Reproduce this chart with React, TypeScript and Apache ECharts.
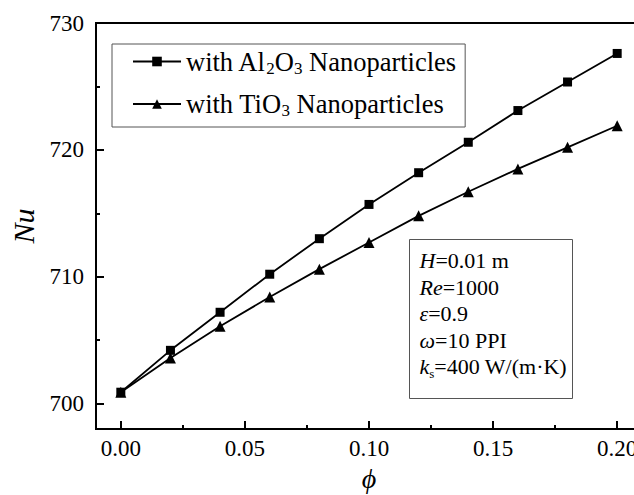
import React, { useEffect, useRef } from 'react';
import * as echarts from 'echarts';

const phi = [0, 0.02, 0.04, 0.06, 0.08, 0.1, 0.12, 0.14, 0.16, 0.18, 0.2];
const nuAl2O3 = [700.9, 704.2, 707.2, 710.2, 713.0, 715.7, 718.2, 720.6, 723.1, 725.35, 727.6];
const nuTiO3 = [700.9, 703.6, 706.1, 708.4, 710.6, 712.7, 714.8, 716.7, 718.5, 720.2, 721.9];
const xMajorTicks = [0, 0.05, 0.1, 0.15, 0.2];
const xMinorTicks = [0.025, 0.075, 0.125, 0.175];
const yMajorTicks = [700, 710, 720, 730];
const yMinorTicks = [705, 715, 725];
const seriesNames = ['with Al2O3 Nanoparticles', 'with TiO3 Nanoparticles'];
const legendRich: Record<string, string> = {
  'with Al2O3 Nanoparticles': '{n|with Al}{s|2}{n|O}{s|3}{n| Nanoparticles}',
  'with TiO3 Nanoparticles': '{n|with TiO}{s|3}{n| Nanoparticles}',
};
const paramLines = [
  '{i|H}{n|=0.01 m}',
  '{i|Re}{n|=1000}',
  '{i|ε}{n|=0.9}',
  '{i|ω}{n|=10 PPI}',
  '{i|k}{s|s}{n|=400 W/(m·K)}',
];

const FONT = '"Liberation Serif", "Times New Roman", "DejaVu Serif", serif';

export default function App() {
  const ref = useRef<HTMLDivElement>(null);
  useEffect(() => {
    if (!ref.current) return;
    const chart = echarts.init(ref.current, null, { renderer: 'svg' });
    const axisLine = { show: true, onZero: false, lineStyle: { color: '#000', width: 2 } };
    const hiddenLine = { show: false, onZero: false };
    const option: any = {
      animation: false,
      backgroundColor: '#fff',
      grid: {
        left: 96, top: 23, width: 546, height: 406,
        show: true, borderColor: '#000', borderWidth: 2,
        containLabel: false, outerBoundsMode: 'none',
      },
      legend: {
        orient: 'vertical',
        left: 112, top: 44,
        padding: [4, 9, 8, 20],
        itemGap: 14,
        itemWidth: 48, itemHeight: 12,
        borderColor: '#555', borderWidth: 1,
        data: seriesNames,
        formatter: (name: string) => legendRich[name],
        textStyle: {
          fontFamily: FONT, color: '#000', fontSize: 26.5,
          rich: {
            n: { fontFamily: FONT, fontSize: 26.5, color: '#000', lineHeight: 30 },
            s: { fontFamily: FONT, fontSize: 17, color: '#000', verticalAlign: 'bottom', padding: [13, 0, 0, 0] },
          },
        },
      },
      xAxis: [
        {
          type: 'value', min: -0.01, max: 0.21,
          name: 'ϕ', nameLocation: 'middle', nameGap: 34,
          nameTextStyle: { fontFamily: FONT, fontStyle: 'italic', fontSize: 28, color: '#000' },
          axisLine,
          splitLine: { show: false },
          axisTick: { show: true, inside: true, length: 8, customValues: xMajorTicks, lineStyle: { color: '#000', width: 2 } },
          axisLabel: {
            show: true, margin: 8, customValues: xMajorTicks,
            formatter: (v: number) => v.toFixed(2),
            fontFamily: FONT, fontSize: 23, color: '#000',
          },
        },
        {
          type: 'value', min: -0.01, max: 0.21, position: 'bottom',
          axisLine: hiddenLine,
          splitLine: { show: false },
          axisTick: { show: true, inside: true, length: 4, customValues: xMinorTicks, lineStyle: { color: '#000', width: 2 } },
          axisLabel: { show: false },
        },
      ],
      yAxis: [
        {
          type: 'value', min: 698, max: 730,
          name: 'Nu', nameLocation: 'middle', nameGap: 58,
          nameTextStyle: { fontFamily: FONT, fontStyle: 'italic', fontSize: 30, color: '#000' },
          axisLine,
          splitLine: { show: false },
          axisTick: { show: true, inside: true, length: 8, customValues: yMajorTicks, lineStyle: { color: '#000', width: 2 } },
          axisLabel: {
            show: true, margin: 12, customValues: yMajorTicks,
            fontFamily: FONT, fontSize: 23, color: '#000',
          },
        },
        {
          type: 'value', min: 698, max: 730, position: 'left',
          axisLine: hiddenLine,
          splitLine: { show: false },
          axisTick: { show: true, inside: true, length: 4, customValues: yMinorTicks, lineStyle: { color: '#000', width: 2 } },
          axisLabel: { show: false },
        },
      ],
      series: [
        {
          name: seriesNames[0], type: 'line',
          data: phi.map((p, i) => [p, nuAl2O3[i]]),
          symbol: 'rect', symbolSize: 9,
          lineStyle: { color: '#000', width: 1.8 },
          itemStyle: { color: '#000' },
          z: 3,
        },
        {
          name: seriesNames[1], type: 'line',
          data: phi.map((p, i) => [p, nuTiO3[i]]),
          symbol: 'triangle', symbolSize: 11,
          lineStyle: { color: '#000', width: 1.8 },
          itemStyle: { color: '#000' },
          z: 4,
        },
      ],
      graphic: [
        {
          type: 'group', left: 409, top: 239,
          children: [
            { type: 'rect', shape: { x: 0, y: 0, width: 163, height: 159 }, style: { fill: '#fff', stroke: '#555', lineWidth: 1 } },
            {
              type: 'text', x: 10, y: 8,
              style: {
                text: paramLines.join('\n'),
                fontFamily: FONT, fontSize: 22, fill: '#000',
                rich: {
                  n: { fontFamily: FONT, fontSize: 22, fill: '#000', lineHeight: 26.5 },
                  i: { fontFamily: FONT, fontSize: 22, fontStyle: 'italic', fill: '#000', lineHeight: 26.5 },
                  s: { fontFamily: FONT, fontSize: 13, fill: '#000', verticalAlign: 'bottom', padding: [12, 0, 0, 0] },
                },
              },
            },
          ],
        },
      ],
    };
    chart.setOption(option);
    return () => chart.dispose();
  }, []);
  return <div ref={ref} style={{ position: 'fixed', left: 0, top: 0, width: 634, height: 495 }} />;
}
